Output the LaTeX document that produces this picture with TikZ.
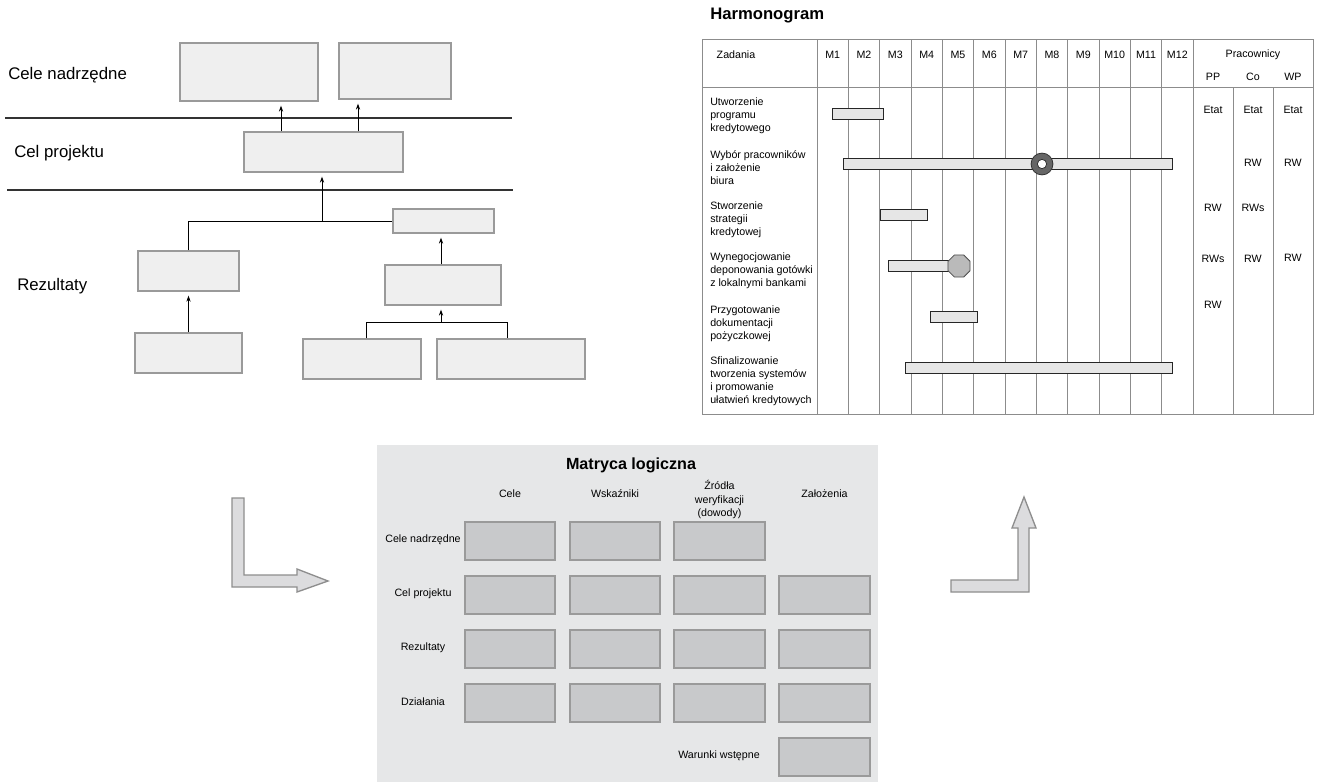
\documentclass[tikz,border=0pt]{standalone}
\usepackage{fontspec}
\setmainfont{Liberation Sans}
\usetikzlibrary{arrows.meta,fit,calc}
\definecolor{boxfill}{HTML}{EFEFEF}
\definecolor{boxline}{HTML}{9A9A9A}
\definecolor{sepline}{HTML}{333333}
\definecolor{gridline}{HTML}{8C8C8C}
\definecolor{barfill}{HTML}{E6E6E6}
\definecolor{matbg}{HTML}{E6E7E8}
\definecolor{cellfill}{HTML}{C8C9CB}
\definecolor{arrfill}{HTML}{DCDCDE}
\definecolor{arrline}{HTML}{8E8E8E}
\begin{document}
\begin{tikzpicture}[x=0.75pt,y=-0.75pt,
  treebox/.style={draw=boxline, fill=boxfill, line width=1pt, inner sep=0pt},
  sep/.style={draw=sepline, line width=0.9pt},
  conn/.style={draw=black, line width=0.55pt},
  arr/.style={conn, -{Stealth[length=4.5pt,width=3.2pt]}, shorten >=3pt},
  biglbl/.style={inner sep=0pt, font=\fontsize{12.6}{15}\selectfont},
  tx/.style={inner sep=0pt, font=\fontsize{8}{9.75}\selectfont},
  task/.style={tx, align=left, anchor=west},
  grid/.style={draw=gridline, line width=0.6pt},
  bar/.style={draw=black!85, fill=barfill, line width=0.6pt, inner sep=0pt},
  cell/.style={draw=boxline, fill=cellfill, line width=0.8pt, inner sep=0pt},
  bigarrow/.style={draw=arrline, fill=arrfill, line width=1pt},
  ttl/.style={inner sep=0pt, font=\bfseries\fontsize{12.5}{15}\selectfont}]
\useasboundingbox (0,0) rectangle (1320,782);

% ---------------- tree ----------------
\node[treebox, fit={(180,43) (318,101)}] (g1) {};
\node[treebox, fit={(339,43) (451,99)}] (g2) {};
\node[treebox, fit={(244,132) (403,172)}] (proj) {};
\node[treebox, fit={(393,209) (494,233)}] (rS) {};
\node[treebox, fit={(138,251) (239,291)}] (rL) {};
\node[treebox, fit={(385,265) (501,305)}] (rM) {};
\node[treebox, fit={(135,333) (242,373)}] (bL) {};
\node[treebox, fit={(303,339) (421,379)}] (bA) {};
\node[treebox, fit={(437,339) (585,379)}] (bB) {};

\coordinate (s1a) at (5,118);  \coordinate (s1b) at (512,118);
\coordinate (s2a) at (7,190);  \coordinate (s2b) at (513,190);
\draw[sep] (s1a) -- (s1b);
\draw[sep] (s2a) -- (s2b);

\node[biglbl, anchor=west] (lCele) at (8,75) {Cele nadrzędne};
\node[biglbl, anchor=west] (lCel) at (14,153) {Cel projektu};
\node[biglbl, anchor=west] (lRez) at (17,286) {Rezultaty};

\coordinate (c281) at (281,0);
\coordinate (c358) at (358,0);
\coordinate (jn) at (322,221);
\coordinate (jb) at (441,322);
\coordinate (jbl) at (366,322);
\coordinate (jbr) at (507,322);
\draw[arr] (proj.north -| c281) -- (g1.south -| c281);
\draw[arr] (proj.north -| c358) -- (g2.south -| c358);
\draw[conn] (rL.north) |- (rS.west);
\draw[arr] (jn) -- (proj.south -| jn);
\draw[arr] (bL.north) -- (rL.south);
\draw[arr] (rM.north -| jb) -- (rS.south -| jb);
\draw[conn] (bA.north -| jbl) -- (jbl) -- (jbr) -- (bB.north -| jbr);
\draw[arr] (jb) -- (rM.south -| jb);

% ---------------- harmonogram ----------------
\node[ttl, anchor=west] (htitle) at (710,16) {Harmonogram};
\draw[grid] (702,39) rectangle (1313,414);
\draw[grid] (702,87) -- (1313,87);
\draw[grid] (817,39) -- (817,414);
\foreach \k in {1,...,12}{
  \draw[grid] ({817+31.333*\k},39) -- ({817+31.333*\k},414);
  \node[tx] (m\k) at ({817+31.333*(\k-0.5)},55) {M\k};
}
\draw[grid] (1233,87) -- (1233,414);
\draw[grid] (1273,87) -- (1273,414);
\node[tx] (hzad) at (736,55) {Zadania};
\node[tx] (hprac) at (1253,55) {Pracownicy};
\node[tx] (hpp) at (1213,77) {PP};
\node[tx] (hco) at (1253,77) {Co};
\node[tx] (hwp) at (1293,77) {WP};

\node[task] (t1) at (710,115.5) {Utworzenie\\programu\\kredytowego};
\node[task] (t2) at (710,167.5) {Wybór pracowników\\i założenie\\biura};
\node[task] (t3) at (710,219.5) {Stworzenie\\strategii\\kredytowej};
\node[task] (t4) at (710,271) {Wynegocjowanie\\deponowania gotówki\\z lokalnymi bankami};
\node[task] (t5) at (710,323.5) {Przygotowanie\\dokumentacji\\pożyczkowej};
\node[task] (t6) at (710,381.5) {Sfinalizowanie\\tworzenia systemów\\i promowanie\\ułatwień kredytowych};

\node[bar, fit={(832,108) (883,119)}] (b1) {};
\node[bar, fit={(843,158.5) (1172,169.5)}] (b2) {};
\node[bar, fit={(880,209) (927,220)}] (b3) {};
\node[bar, fit={(888,260) (949,271)}] (b4) {};
\node[bar, fit={(930,311.5) (977,322.5)}] (b5) {};
\node[bar, fit={(905,362) (1172,373)}] (b6) {};
% milestones
\filldraw[draw=black!80, fill=black!60, line width=0.6pt] (1042,164) circle[radius=8.2pt];
\filldraw[draw=black!80, fill=white, line width=0.6pt] (1042,164) circle[radius=3.5pt];
\filldraw[draw=black!70, fill=black!27, line width=0.6pt]
  (959,266) +(22.5:12) \foreach \a in {67.5,112.5,157.5,202.5,247.5,292.5,337.5}{ -- +(\a:12)} -- cycle;

\node[tx] (s11) at (1213,110) {Etat};
\node[tx] (s12) at (1253,110) {Etat};
\node[tx] (s13) at (1293,110) {Etat};
\node[tx] (s22) at (1253,163) {RW};
\node[tx] (s23) at (1293,163) {RW};
\node[tx] (s31) at (1213,208) {RW};
\node[tx] (s32) at (1253,208) {RWs};
\node[tx] (s41) at (1213,259) {RWs};
\node[tx] (s42) at (1253,259) {RW};
\node[tx] (s43) at (1293,258) {RW};
\node[tx] (s51) at (1213,305) {RW};

% ---------------- matrix ----------------
\node[fill=matbg, inner sep=0pt, fit={(377,445) (878,782)}] (mbg) {};
\node[inner sep=0pt, font=\bfseries\fontsize{12.1}{14}\selectfont] (mtitle) at (631,465) {Matryca logiczna};
\node[tx] (hc1) at (510,494) {Cele};
\node[tx] (hc2) at (615,494) {Wskaźniki};
\node[tx, align=center, font=\fontsize{8}{10.1}\selectfont] (hc3) at (719.5,499.5) {Źródła\\weryfikacji\\(dowody)};
\node[tx] (hc4) at (824.5,494) {Założenia};
\foreach \r/\ya/\yb in {1/522/560,2/576/614,3/630/668,4/684/722}{
  \foreach \c/\xa/\xb in {1/465/555,2/570/660,3/674/765,4/779/870}{
    \ifnum\r\c=14\relax\else
      \node[cell, fit={(\xa,\ya) (\xb,\yb)}] (c\r\c) {};
    \fi
  }
}
\node[cell, fit={(779,738) (870,776)}] (c54) {};
\node[tx] (rl1) at (423,540) {Cele nadrzędne};
\node[tx] (rl2) at (423,594) {Cel projektu};
\node[tx] (rl3) at (423,648) {Rezultaty};
\node[tx] (rl4) at (423,702) {Działania};
\node[tx] (rl5) at (719,756) {Warunki wstępne};

% ---------------- big arrows ----------------
\filldraw[bigarrow] (232,498) -- (244,498) -- (244,575) -- (297,575) -- (297,569) -- (328,581) -- (297,592) -- (297,587) -- (232,587) -- cycle;
\filldraw[bigarrow] (951,580) -- (1018,580) -- (1018,528) -- (1012,528) -- (1024,497) -- (1036,528) -- (1029,528) -- (1029,592) -- (951,592) -- cycle;
\end{tikzpicture}
\end{document}
